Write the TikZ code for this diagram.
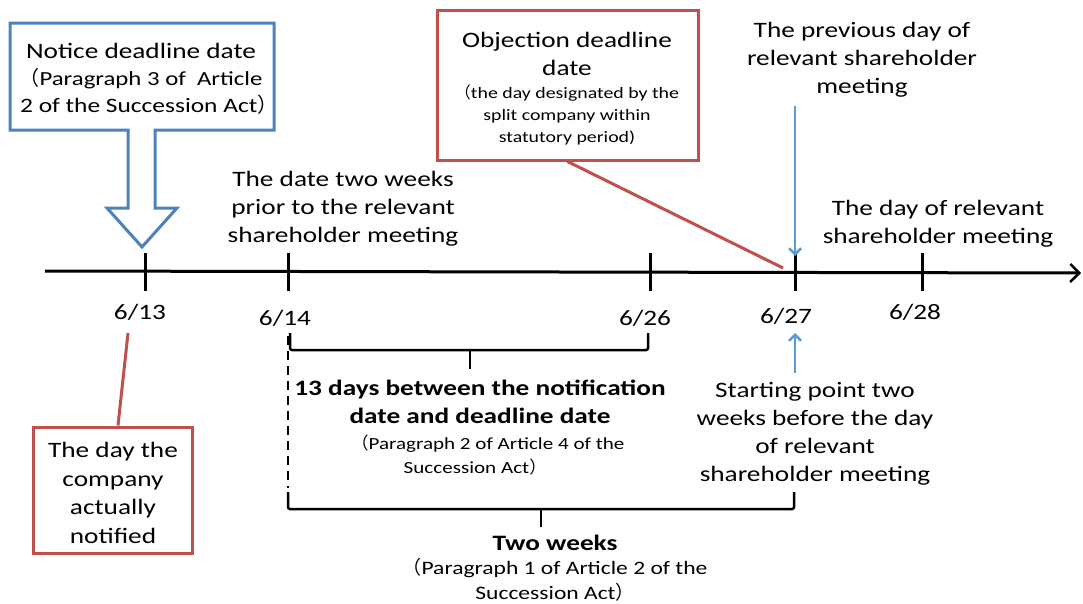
\documentclass[tikz,border=0pt]{standalone}
\usepackage{fontspec}
\setmainfont{Carlito}[FakeStretch=1.24]
\newfontfamily\cjk{Noto Sans CJK JP}
\usetikzlibrary{arrows.meta}
% full-width parentheses
\newcommand{\fwlp}{{\cjk （}}
\newcommand{\fwrp}{{\cjk ）}}
\definecolor{boxblue}{HTML}{4F81BD}
\definecolor{arrblue}{HTML}{5B9BD5}
\definecolor{boxred}{HTML}{C0504D}
\tikzset{
  lbl/.style={font=\fontsize{22}{28}\selectfont, align=center, inner sep=0pt},
  boxtxt/.style={font=\fontsize{22}{27}\selectfont, align=center, inner sep=0pt},
  subtxt/.style={font=\fontsize{16}{22}\selectfont, align=center, inner sep=0pt},
  boldtxt/.style={font=\fontsize{22}{28}\selectfont\bfseries, align=center, inner sep=0pt},
  datelbl/.style={font=\fontsize{22}{26}\selectfont, inner sep=0pt},
  axisline/.style={line width=3pt, -{Straight Barb[length=9pt,width=18pt,line width=2.5pt]}},
  tickmark/.style={line width=3pt},
  callout/.style={line width=3pt, fill=white},
  redframe/.style={draw=boxred, line width=3pt, fill=white, inner sep=0pt},
  redline/.style={draw=boxred, line width=3pt},
  pointer/.style={line width=2.5pt, color=arrblue, -{Straight Barb[length=6pt,width=12pt]}},
  bracket/.style={line width=2.5pt, rounded corners=2pt},
}
\begin{document}
\begin{tikzpicture}[x=1pt, y=-1pt, line join=miter]
\useasboundingbox (0,0) rectangle (1083,603);

% time axis and day ticks
\coordinate (ax0) at (45,271);
\coordinate (ax1) at (1081,273);
\draw[axisline] (ax0) -- (ax1);
\coordinate (t13) at (145,272);
\coordinate (t14) at (288,272);
\coordinate (t26) at (650,272);
\coordinate (t27) at (795,272);
\coordinate (t28) at (922,272);
\foreach \t in {t13,t14,t26,t27,t28}
  \draw[tickmark] (\t) ++(0,-19) -- ++(0,38);

\node[datelbl] (d13) at (140,312) {6/13};
\node[datelbl] (d14) at (285,318) {6/14};
\node[datelbl] (d26) at (645,318) {6/26};
\node[datelbl] (d27) at (786,316) {6/27};
\node[datelbl] (d28) at (915,312) {6/28};

% notice deadline callout with block arrow
\draw[callout, draw=boxblue] (10,23) -- (274,23) -- (274,130) -- (155,130) -- (155,208)
  -- (177,208) -- (142,247) -- (107,208) -- (128,208) -- (128,130) -- (10,130) -- cycle;
\node[boxtxt] (notice) at (141,79)
  {Notice deadline date\\{\fontsize{20}{27}\selectfont\fwlp Paragraph 3 of\ \ Article}\\
   {\fontsize{20.5}{26}\selectfont\rule{16pt}{0pt}2 of the Succession Act\fwrp}};

% objection deadline callout
\node[redframe, minimum width=261pt, minimum height=150pt] (objbox) at (567.5,85) {};
\node[lbl] (objtitle) at (567,54) {Objection deadline\\date};
\node[subtxt] (objsub) at (567,115)
  {\fwlp the day designated by the\\split company within\\statutory period)};
\coordinate (objend) at (783,268);
\draw[redline] (objbox.south) -- (objend);

% labels above the axis
\node[lbl] (prevday) at (862,60) {The previous day of\\relevant shareholder\\meeting};
\draw[pointer] (795,106) -- (t27 |- 0,256);
\node[lbl] (meetday) at (938,224) {The day of relevant\\shareholder meeting};
\node[lbl] (twoprior) at (343,209) {The date two weeks\\prior to the relevant\\shareholder meeting};

% actual notification day
\node[redframe, minimum width=159pt, minimum height=126pt] (actual) at (112.5,490) {};
\node[lbl, font=\fontsize{22}{28.5}\selectfont] (actualtxt) at (113,493)
  {The day the\\company\\actually\\notified};
\coordinate (notifytick) at (128,333);
\draw[redline] (actual.north -| 118,0) -- (notifytick);

% 13-day bracket
\draw[bracket] (290,333) -- (290,350) -- (648,350) -- (648,333);
\draw[line width=2.5pt] (470,350) -- (470,369);
\node[boldtxt] (thirteen) at (480,402)
  {13 days between the notification\\date and deadline date};
\node[subtxt, font=\fontsize{17}{24}\selectfont] (thirteenref) at (488,455)
  {\fwlp Paragraph 2 of Article 4 of the\\Succession Act\fwrp\rule{26pt}{0pt}};

% starting point
\draw[pointer] (795,373) -- (795,333);
\node[lbl] (start) at (815,434)
  {Starting point two\\weeks before the day\\of relevant\\shareholder meeting};

% two-week bracket
\draw[line width=2.5pt, dashed, dash pattern=on 9pt off 6pt] (288,336) -- (288,488);
\draw[bracket] (288,492) -- (288,509) -- (794,509) -- (794,492);
\draw[line width=2.5pt] (541,509) -- (541,527);
\node[boldtxt] (twoweeks) at (555,543) {Two weeks};
\node[subtxt, font=\fontsize{19}{25}\selectfont] (twoweeksref) at (555,580)
  {\fwlp Paragraph 1 of Article 2 of the\\Succession Act\fwrp};
\end{tikzpicture}
\end{document}
